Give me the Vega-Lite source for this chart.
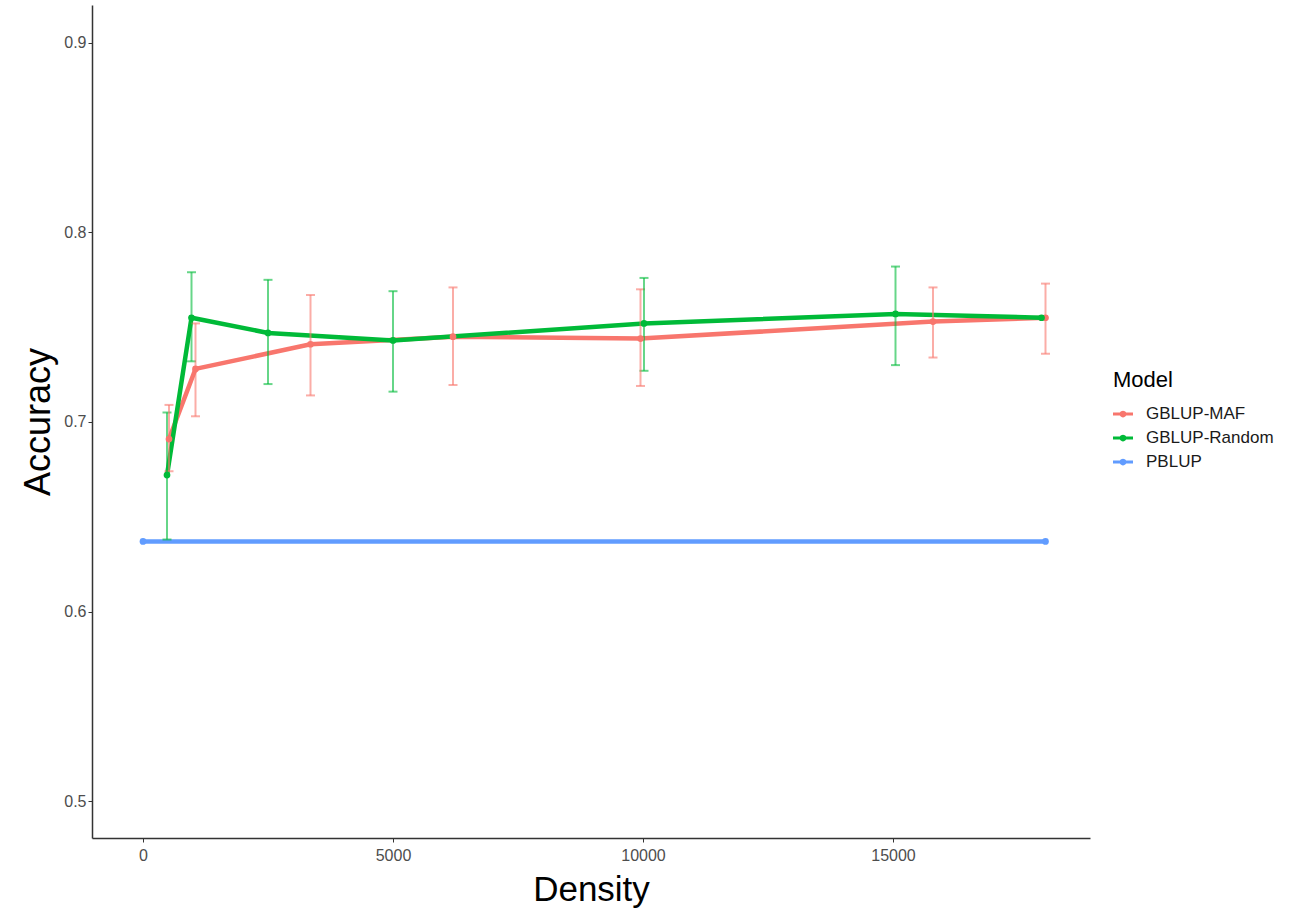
{
  "$schema": "https://vega.github.io/schema/vega-lite/v6.json",
  "width": 998,
  "height": 833,
  "autosize": {"type": "none"},
  "padding": {"left": 92, "top": 5, "right": 216, "bottom": 71},
  "background": "white",
  "config": {"view": {"stroke": null}, "font": "Liberation Sans"},
  "data": {
    "values": [
      {"Model": "GBLUP-MAF", "Density": 520, "Accuracy": 0.691, "lo": 0.674, "hi": 0.709},
      {"Model": "GBLUP-MAF", "Density": 1050, "Accuracy": 0.728, "lo": 0.703, "hi": 0.752},
      {"Model": "GBLUP-MAF", "Density": 3350, "Accuracy": 0.741, "lo": 0.714, "hi": 0.767},
      {"Model": "GBLUP-MAF", "Density": 6200, "Accuracy": 0.745, "lo": 0.7195, "hi": 0.771},
      {"Model": "GBLUP-MAF", "Density": 9950, "Accuracy": 0.744, "lo": 0.719, "hi": 0.770},
      {"Model": "GBLUP-MAF", "Density": 15800, "Accuracy": 0.753, "lo": 0.734, "hi": 0.771},
      {"Model": "GBLUP-MAF", "Density": 18050, "Accuracy": 0.755, "lo": 0.736, "hi": 0.773},
      {"Model": "GBLUP-Random", "Density": 480, "Accuracy": 0.672, "lo": 0.638, "hi": 0.705},
      {"Model": "GBLUP-Random", "Density": 970, "Accuracy": 0.755, "lo": 0.732, "hi": 0.779},
      {"Model": "GBLUP-Random", "Density": 2500, "Accuracy": 0.747, "lo": 0.720, "hi": 0.775},
      {"Model": "GBLUP-Random", "Density": 5000, "Accuracy": 0.743, "lo": 0.716, "hi": 0.769},
      {"Model": "GBLUP-Random", "Density": 10020, "Accuracy": 0.752, "lo": 0.727, "hi": 0.776},
      {"Model": "GBLUP-Random", "Density": 15050, "Accuracy": 0.757, "lo": 0.730, "hi": 0.782},
      {"Model": "GBLUP-Random", "Density": 17970, "Accuracy": 0.755, "lo": null, "hi": null},
      {"Model": "PBLUP", "Density": 0, "Accuracy": 0.637, "lo": null, "hi": null},
      {"Model": "PBLUP", "Density": 18050, "Accuracy": 0.637, "lo": null, "hi": null}
    ]
  },
  "encoding": {
    "x": {
      "field": "Density",
      "type": "quantitative",
      "scale": {"domain": [-1020, 18940], "nice": false, "zero": false},
      "axis": {
        "title": "Density",
        "titleFontSize": 35,
        "titleFontWeight": "normal",
        "titleColor": "#000000",
        "titlePadding": 9,
        "values": [0, 5000, 10000, 15000],
        "format": "d",
        "labelFontSize": 16,
        "labelColor": "#4D4D4D",
        "labelPadding": 5,
        "tickSize": 4,
        "tickColor": "#333333",
        "domainColor": "#333333",
        "domainWidth": 1.5,
        "grid": false
      }
    },
    "color": {
      "field": "Model",
      "type": "nominal",
      "scale": {
        "domain": ["GBLUP-MAF", "GBLUP-Random", "PBLUP"],
        "range": ["#F8766D", "#00BA38", "#619CFF"]
      },
      "legend": {
        "title": "Model",
        "orient": "none",
        "legendX": 1021,
        "legendY": 365,
        "padding": 0,
        "titleFontSize": 22,
        "titleFontWeight": "normal",
        "titleColor": "#000000",
        "titlePadding": 12,
        "labelFontSize": 17,
        "labelColor": "#1A1A1A",
        "labelOffset": 13,
        "symbolType": "M-1,-0.15H-0.31A0.35,0.35 0 0 1 0.31,-0.15H1V0.15H0.31A0.35,0.35 0 0 1 -0.31,0.15H-1Z",
        "symbolSize": 400,
        "symbolStrokeWidth": 0,
        "rowPadding": 6,
        "encode": {
          "symbols": {
            "update": {
              "fill": {"scale": "color", "field": "value"},
              "fillOpacity": {"value": 1},
              "strokeWidth": {"value": 0}
            }
          }
        }
      }
    }
  },
  "layer": [
    {
      "mark": {"type": "line", "strokeWidth": 4.5},
      "encoding": {
        "y": {
          "field": "Accuracy",
          "type": "quantitative",
          "scale": {"domain": [0.4805, 0.92], "nice": false, "zero": false},
          "axis": {
            "title": "Accuracy",
            "titleFontSize": 36,
            "titleFontWeight": "normal",
            "titleColor": "#000000",
            "titlePadding": 6,
            "values": [0.5, 0.6, 0.7, 0.8, 0.9],
            "format": ".1f",
            "labelFontSize": 16,
            "labelColor": "#4D4D4D",
            "labelPadding": 2,
            "tickSize": 4,
            "tickColor": "#333333",
            "domainColor": "#333333",
            "domainWidth": 1.5,
            "grid": false
          }
        }
      }
    },
    {
      "transform": [{"filter": "datum.lo != null"}],
      "mark": {
        "type": "errorbar",
        "ticks": {"size": 9, "thickness": 2, "opacity": 0.6},
        "rule": {"strokeWidth": 2, "opacity": 0.6}
      },
      "encoding": {
        "y": {"field": "lo", "type": "quantitative", "title": "Accuracy"},
        "y2": {"field": "hi"}
      }
    },
    {
      "mark": {"type": "point", "filled": true, "size": 45, "opacity": 1},
      "encoding": {
        "y": {"field": "Accuracy", "type": "quantitative"}
      }
    }
  ]
}
